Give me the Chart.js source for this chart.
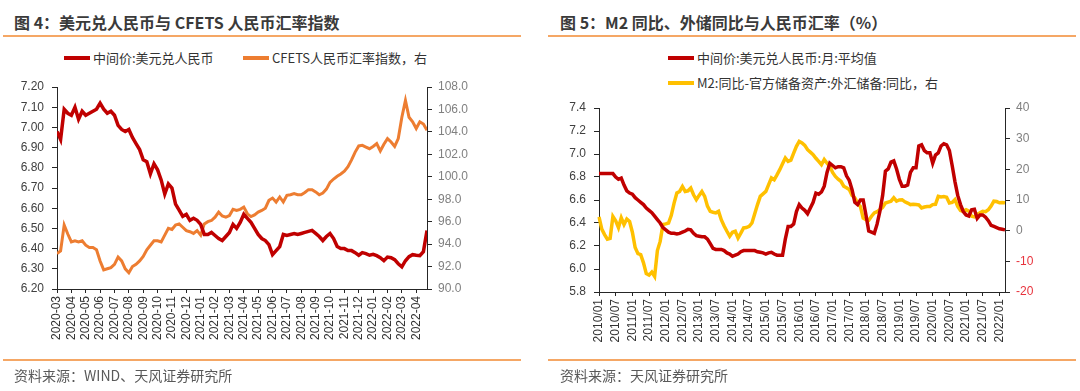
<!DOCTYPE html>
<html lang="zh">
<head>
<meta charset="UTF-8">
<title>人民币汇率</title>
<script src="https://cdn.jsdelivr.net/npm/chart.js"></script>
<style>
    body { margin: 0; background: #fff; }
    #page { position: relative; width: 1080px; height: 391px; background: #fff; overflow: hidden;
            font-family: "Noto Sans CJK SC", "Noto Sans", sans-serif; color: #333; }
    .title { position: absolute; top: 11px; font-size: 16px; font-weight: bold; color: #3a3a3a; white-space: nowrap; line-height: 22px; }
    .rule { position: absolute; height: 2px; background: #f5a765; }
    .legend { position: absolute; font-size: 13px; color: #333; white-space: nowrap; line-height: 18px; }
    .legend .sw { display: inline-block; width: 26px; height: 4px; vertical-align: middle; margin-right: 3px; position: relative; top: -1px; }
    .source { position: absolute; top: 365px; font-size: 14px; color: #595959; white-space: nowrap; line-height: 20px; }
    canvas { position: absolute; }
</style>
</head>
<body>
<div id="page">
    <!-- left panel -->
    <div class="title" style="left:14px">图 4：美元兑人民币与 CFETS 人民币汇率指数</div>
    <div class="rule" style="left:3px; top:35px; width:518px"></div>
    <div class="legend" style="left:64px; top:49px"><span class="sw" style="background:#c00000"></span>中间价:美元兑人民币</div>
    <div class="legend" style="left:243px; top:49px"><span class="sw" style="background:#ed7d31"></span>CFETS人民币汇率指数，右</div>
    <canvas id="chartLeft" width="540" height="290" style="left:0; top:70px"></canvas>
    <div class="rule" style="left:3px; top:359px; width:518px"></div>
    <div class="source" style="left:14px">资料来源：WIND、天风证券研究所</div>

    <!-- right panel -->
    <div class="title" style="left:560px">图 5：M2 同比、外储同比与人民币汇率（%）</div>
    <div class="rule" style="left:548px; top:35px; width:528px"></div>
    <div class="legend" style="left:668px; top:49px"><span class="sw" style="background:#c00000"></span>中间价:美元兑人民币:月:平均值</div>
    <div class="legend" style="left:668px; top:74px"><span class="sw" style="background:#ffc000"></span>M2:同比-官方储备资产:外汇储备:同比，右</div>
    <canvas id="chartRight" width="540" height="290" style="left:540px; top:70px"></canvas>
    <div class="rule" style="left:548px; top:359px; width:528px"></div>
    <div class="source" style="left:560px">资料来源：天风证券研究所</div>
</div>

<script>
    // ---- figure 4 data: weekly readings, 2020-03 .. 2022-04 ----
    const monthLabels = ['2020-03', '2020-04', '2020-05', '2020-06', '2020-07', '2020-08', '2020-09', '2020-10',
        '2020-11', '2020-12', '2021-01', '2021-02', '2021-03', '2021-04', '2021-05', '2021-06', '2021-07',
        '2021-08', '2021-09', '2021-10', '2021-11', '2021-12', '2022-01', '2022-02', '2022-03', '2022-04'];

    const usdcnyWeekly = [
        6.98, 6.94, 7.09, 7.07, 7.06, 7.10, 7.04, 7.08, 7.06, 7.07, 7.08, 7.09,
        7.12, 7.09, 7.07, 7.08, 7.06, 7.01, 6.99, 6.98, 6.99, 6.95, 6.92, 6.89,
        6.84, 6.83, 6.77, 6.82, 6.79, 6.74, 6.67, 6.72, 6.70, 6.62, 6.59, 6.56,
        6.57, 6.54, 6.55, 6.54, 6.52, 6.47, 6.47, 6.48, 6.465, 6.45, 6.44, 6.46,
        6.48, 6.52, 6.50, 6.53, 6.57, 6.55, 6.53, 6.50, 6.47, 6.45, 6.44, 6.42,
        6.37, 6.39, 6.41, 6.47, 6.465, 6.47, 6.475, 6.47, 6.475, 6.48, 6.485, 6.49,
        6.475, 6.46, 6.44, 6.46, 6.475, 6.45, 6.41, 6.40, 6.40, 6.39, 6.39, 6.38,
        6.367, 6.38, 6.375, 6.367, 6.372, 6.365, 6.355, 6.34, 6.358, 6.355, 6.345, 6.325,
        6.31, 6.34, 6.36, 6.37, 6.367, 6.365, 6.385, 6.49
    ];

    const cfetsWeekly = [
        93.15, 93.4, 95.7, 94.9, 94.2, 94.3, 94.2, 94.3, 93.9, 93.7, 93.7, 93.5,
        92.5, 91.7, 91.8, 91.9, 92.2, 92.85, 92.5, 91.8, 91.45, 92.0, 92.2, 92.5,
        92.9, 93.5, 93.9, 94.3, 94.3, 94.2, 94.8, 95.4, 95.3, 95.7, 95.8, 95.5,
        95.2, 95.1, 94.95, 95.2, 94.8, 95.8, 96.0, 96.1, 96.4, 96.85, 96.5, 96.4,
        96.55, 97.1, 97.0, 97.1, 97.3, 96.7, 96.45, 96.6, 96.85, 97.0, 97.2, 97.9,
        98.1, 97.75, 98.2, 97.75, 98.35, 98.4, 98.5, 98.4, 98.4, 98.6, 98.85, 98.85,
        98.65, 98.4, 98.55, 98.9, 99.5, 99.8, 100.05, 100.25, 100.5, 100.9, 101.5, 102.2,
        102.75, 102.8, 102.65, 102.5, 102.7, 102.95, 102.3, 102.9, 103.4, 103.1, 102.7, 103.4,
        105.3, 106.8, 105.3, 104.9, 104.3, 104.9, 104.7, 104.15
    ];

    // ---- figure 5 data: monthly, 2010/01 .. 2022/03 ----
    const startYear = 2010;
    const usdcnyMonthly = [
        6.83, 6.83, 6.83, 6.83, 6.83, 6.83, 6.80, 6.78, 6.79, 6.73, 6.68, 6.66,
        6.65, 6.62, 6.60, 6.58, 6.56, 6.53, 6.51, 6.49, 6.46, 6.43, 6.40, 6.36,
        6.34, 6.32, 6.31, 6.31, 6.305, 6.31, 6.32, 6.33, 6.345, 6.34, 6.31, 6.29,
        6.285, 6.28, 6.28, 6.26, 6.22, 6.18, 6.17, 6.17, 6.17, 6.16, 6.14, 6.13,
        6.11, 6.12, 6.13, 6.15, 6.16, 6.16, 6.16, 6.16, 6.16, 6.15, 6.145, 6.14,
        6.13, 6.14, 6.145, 6.13, 6.12, 6.12, 6.12, 6.26, 6.37, 6.37, 6.39, 6.50,
        6.56, 6.53, 6.51, 6.48, 6.53, 6.58, 6.66, 6.65, 6.67, 6.72, 6.84, 6.92,
        6.90, 6.88, 6.89, 6.89, 6.88, 6.81, 6.77, 6.69, 6.58, 6.56, 6.60, 6.60,
        6.47, 6.33, 6.32, 6.31, 6.39, 6.50, 6.64, 6.85, 6.87, 6.93, 6.94, 6.87,
        6.78, 6.72, 6.72, 6.73, 6.84, 6.88, 6.88, 7.07, 7.08, 7.03, 7.01, 7.01,
        6.92, 6.99, 7.01, 7.07, 7.09, 7.08, 7.03, 6.90, 6.76, 6.64, 6.56, 6.50,
        6.47, 6.46, 6.515, 6.52, 6.44, 6.47, 6.47, 6.45, 6.42, 6.38, 6.37, 6.36,
        6.35, 6.345, 6.34
    ];

    const m2MinusFxReserves = [
        4.5, 0.5, -1.3, -2.8, -2.5, 4.6, 3.2, 1.0, 4.2, 2.0, 3.8, 3.0,
        -0.5, -5.5, -7.5, -7.8, -10.5, -14.0, -14.5, -13.5, -14.9, -6.5, -3.5, 2.0,
        2.2, 2.5, 5.0, 9.0, 12.3, 12.8, 14.4, 12.8, 13.0, 13.9, 11.7, 10.1,
        11.5, 12.8, 11.2, 8.0, 6.3, 6.0, 5.8, 6.3, 3.5, 1.5, -0.2, -1.8,
        -0.5, -0.2, -2.4, -0.8, 0.9, 1.0, 1.4, 2.5, 5.5, 8.5, 11.2, 12.0,
        12.8, 15.0, 17.2, 16.6, 18.2, 19.9, 21.8, 23.7, 22.6, 23.0, 25.3, 27.5,
        29.1, 28.6, 27.8, 26.4, 25.6, 24.8, 23.6, 22.6, 21.5, 23.2, 22.0, 21.0,
        19.0, 17.7, 16.8, 16.1, 14.5, 14.0, 13.4, 11.5, 10.7, 9.0, 7.9, 4.1,
        3.6, 3.4, 4.7, 5.8, 6.2, 6.8, 7.6, 9.0, 9.3, 9.6, 10.7, 9.6,
        10.0, 10.1, 9.4, 9.0, 8.5, 8.6, 8.5, 8.4, 7.4, 7.7, 7.9, 7.9,
        8.5, 8.6, 11.2, 11.0, 11.1, 10.9, 9.0, 9.2, 10.1, 7.9, 6.6, 6.3,
        6.8, 6.4, 4.7, 4.5, 5.3, 5.8, 6.3, 6.2, 6.8, 8.0, 9.6, 9.5,
        9.1, 9.2, 9.1
    ];

    const monthlyLabels = usdcnyMonthly.map((_, i) => {
        const y = startYear + Math.floor(i / 12);
        const m = (i % 12) + 1;
        return y + '/' + (m < 10 ? '0' + m : m);
    });

    const tickFont = { family: "'Liberation Sans', Arial, sans-serif", size: 12 };
    const axisColor = '#262626';

    function fixSize(prop, px) {
        return function (scale) { scale[prop] = px; };
    }

    Chart.defaults.animation = false;
    Chart.defaults.font.family = tickFont.family;

    // Figure 4
    new Chart(document.getElementById('chartLeft').getContext('2d'), {
        type: 'line',
        data: {
            datasets: [
                {
                    label: '中间价:美元兑人民币',
                    data: usdcnyWeekly.map((v, i) => ({ x: i / 4, y: v })),
                    borderColor: '#c00000',
                    borderWidth: 3.5,
                    pointRadius: 0,
                    yAxisID: 'y'
                },
                {
                    label: 'CFETS人民币汇率指数，右',
                    data: cfetsWeekly.map((v, i) => ({ x: i / 4, y: v })),
                    borderColor: '#ed7d31',
                    borderWidth: 3,
                    pointRadius: 0,
                    yAxisID: 'y1'
                }
            ]
        },
        options: {
            responsive: false,
            devicePixelRatio: 1,
            layout: { padding: { top: 17, left: 0, right: 0, bottom: 0 } },
            plugins: { legend: { display: false }, tooltip: { enabled: false } },
            scales: {
                x: {
                    type: 'linear',
                    min: 0,
                    max: 25.75,
                    afterFit: fixSize('height', 71),
                    grid: { display: true, drawOnChartArea: false, tickLength: 4, color: axisColor },
                    border: { display: true, color: axisColor, width: 1 },
                    ticks: {
                        stepSize: 1,
                        includeBounds: false,
                        autoSkip: false,
                        minRotation: 90,
                        maxRotation: 90,
                        padding: 3,
                        font: tickFont,
                        color: '#333',
                        callback: v => Number.isInteger(v) ? monthLabels[v] : null
                    }
                },
                y: {
                    position: 'left',
                    min: 6.2,
                    max: 7.2,
                    afterFit: fixSize('width', 57),
                    grid: { display: true, drawOnChartArea: false, tickLength: 5, color: axisColor },
                    border: { display: true, color: axisColor, width: 1 },
                    ticks: { stepSize: 0.1, padding: 8, font: tickFont, color: '#404040', callback: v => v.toFixed(2) }
                },
                y1: {
                    position: 'right',
                    min: 90,
                    max: 108,
                    afterFit: fixSize('width', 113),
                    grid: { display: true, drawOnChartArea: false, tickLength: 5, color: axisColor },
                    border: { display: true, color: axisColor, width: 1 },
                    ticks: { stepSize: 2, padding: 6, font: tickFont, color: '#808080', callback: v => v.toFixed(1) }
                }
            }
        }
    });

    // Figure 5
    new Chart(document.getElementById('chartRight').getContext('2d'), {
        type: 'line',
        data: {
            labels: monthlyLabels,
            datasets: [
                {
                    label: '中间价:美元兑人民币:月:平均值',
                    data: usdcnyMonthly,
                    borderColor: '#c00000',
                    borderWidth: 3.5,
                    pointRadius: 0,
                    yAxisID: 'y'
                },
                {
                    label: 'M2:同比-官方储备资产:外汇储备:同比，右',
                    data: m2MinusFxReserves,
                    borderColor: '#ffc000',
                    borderWidth: 3.5,
                    pointRadius: 0,
                    yAxisID: 'y1'
                }
            ]
        },
        options: {
            responsive: false,
            devicePixelRatio: 1,
            layout: { padding: { top: 38, left: 0, right: 0, bottom: 0 } },
            plugins: { legend: { display: false }, tooltip: { enabled: false } },
            scales: {
                x: {
                    afterFit: fixSize('height', 68),
                    grid: { display: true, drawOnChartArea: false, tickLength: 4, color: axisColor },
                    border: { display: true, color: axisColor, width: 1 },
                    ticks: {
                        autoSkip: false,
                        minRotation: 90,
                        maxRotation: 90,
                        padding: 3,
                        font: tickFont,
                        color: '#333',
                        callback: function (val, idx) { return idx % 6 === 0 ? this.getLabelForValue(val) : null; }
                    }
                },
                y: {
                    position: 'left',
                    min: 5.8,
                    max: 7.4,
                    afterFit: fixSize('width', 59),
                    grid: { display: true, drawOnChartArea: false, tickLength: 5, color: axisColor },
                    border: { display: true, color: axisColor, width: 1 },
                    ticks: { stepSize: 0.2, padding: 8, font: tickFont, color: '#404040', callback: v => v.toFixed(1) }
                },
                y1: {
                    position: 'right',
                    min: -20,
                    max: 40,
                    afterFit: fixSize('width', 75),
                    grid: { display: true, drawOnChartArea: false, tickLength: 5, color: axisColor },
                    border: { display: true, color: axisColor, width: 1 },
                    ticks: {
                        stepSize: 10,
                        padding: 6,
                        font: tickFont,
                        color: ctx => ctx.tick && ctx.tick.value < 0 ? '#e8323c' : '#808080'
                    }
                }
            }
        }
    });
</script>
</body>
</html>
